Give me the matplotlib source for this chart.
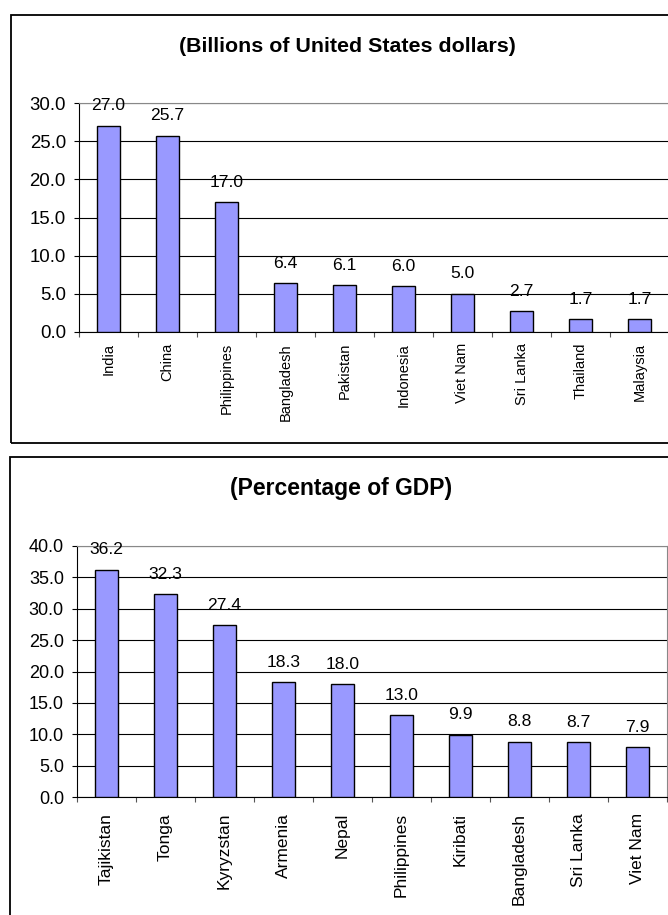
import matplotlib
matplotlib.use("Agg")
import matplotlib.pyplot as plt
from matplotlib.patches import Rectangle
from matplotlib.ticker import FixedLocator, FormatStrFormatter

plt.rcParams["font.family"] = ["Liberation Sans", "DejaVu Sans"]

W, H = 668, 915

# top chart: remittances in billions of US dollars
top_countries = ["India", "China", "Philippines", "Bangladesh", "Pakistan",
                 "Indonesia", "Viet Nam", "Sri Lanka", "Thailand", "Malaysia"]
top_values = [27.0, 25.7, 17.0, 6.4, 6.1, 6.0, 5.0, 2.7, 1.7, 1.7]
top_title = "(Billions of United States dollars)"

# bottom chart: remittances as percentage of GDP
bottom_countries = ["Tajikistan", "Tonga", "Kyryzstan", "Armenia", "Nepal",
                    "Philippines", "Kiribati", "Bangladesh", "Sri Lanka", "Viet Nam"]
bottom_values = [36.2, 32.3, 27.4, 18.3, 18.0, 13.0, 9.9, 8.8, 8.7, 7.9]
bottom_title = "(Percentage of GDP)"


def fx(px):
    return px / W


def fy(py):
    return 1 - py / H


def add_box(fig, left, top, bottom):
    # outer chart frame, runs off the right edge like the original
    fig.patches.append(Rectangle((fx(left), fy(bottom)), fx(W + 20 - left),
                                 fy(top) - fy(bottom), transform=fig.transFigure,
                                 fill=False, edgecolor="black", linewidth=1.3,
                                 clip_on=False))


def bar_panel(fig, rect, countries, values, ymax, tick_size, cat_size,
              val_size, cat_pad):
    left, top, right, bottom = rect
    ax = fig.add_axes([fx(left), fy(bottom), fx(right - left), fy(top) - fy(bottom)])
    n = len(countries)
    xs = list(range(n))
    ax.bar(xs, values, width=0.4, color="#9999FF", edgecolor="black",
           linewidth=1.0, zorder=3)
    for x, v in zip(xs, values):
        ax.annotate("%.1f" % v, (x, v), xytext=(0, 14.4), textcoords="offset points",
                    ha="center", va="center", fontsize=val_size, zorder=4,
                    annotation_clip=False)

    ax.set_xlim(-0.5, n - 0.5)
    ax.set_ylim(0, ymax)
    ax.set_yticks([v * 5.0 for v in range(int(ymax / 5) + 1)])
    ax.yaxis.set_major_formatter(FormatStrFormatter("%.1f"))
    ax.yaxis.grid(True, color="black", linewidth=0.8, zorder=0)
    ax.tick_params(axis="y", length=3.6, width=0.8, pad=5.8, labelsize=tick_size)

    ax.set_xticks(xs)
    ax.set_xticklabels(countries, rotation=90, fontsize=cat_size)
    ax.tick_params(axis="x", which="major", length=0, pad=cat_pad)
    ax.xaxis.set_minor_locator(FixedLocator([i - 0.5 for i in range(n + 1)]))
    ax.tick_params(axis="x", which="minor", length=3.6, width=0.8, color="#555555")

    ax.spines["top"].set_color("#888888")
    ax.spines["right"].set_color("#888888")
    ax.spines["left"].set_linewidth(0.8)
    ax.spines["bottom"].set_linewidth(0.8)
    return ax


def main():
    fig = plt.figure(figsize=(W / 100, H / 100), dpi=100)

    add_box(fig, 11, 15, 443)
    fig.text(fx(347), fy(46), top_title, ha="center", va="center",
             fontsize=15.4, fontweight="bold")
    bar_panel(fig, (79, 103, 669, 332), top_countries, top_values, 30.0,
              13.4, 10.5, 12.6, 7.9)

    add_box(fig, 10, 457, H + 20)
    fig.text(fx(341), fy(488), bottom_title, ha="center", va="center",
             fontsize=16.5, fontweight="bold")
    bar_panel(fig, (77, 546, 667, 797), bottom_countries, bottom_values, 40.0,
              13.0, 12.5, 12.6, 11.5)

    fig.savefig("out.png", dpi=100)


if __name__ == "__main__":
    main()
